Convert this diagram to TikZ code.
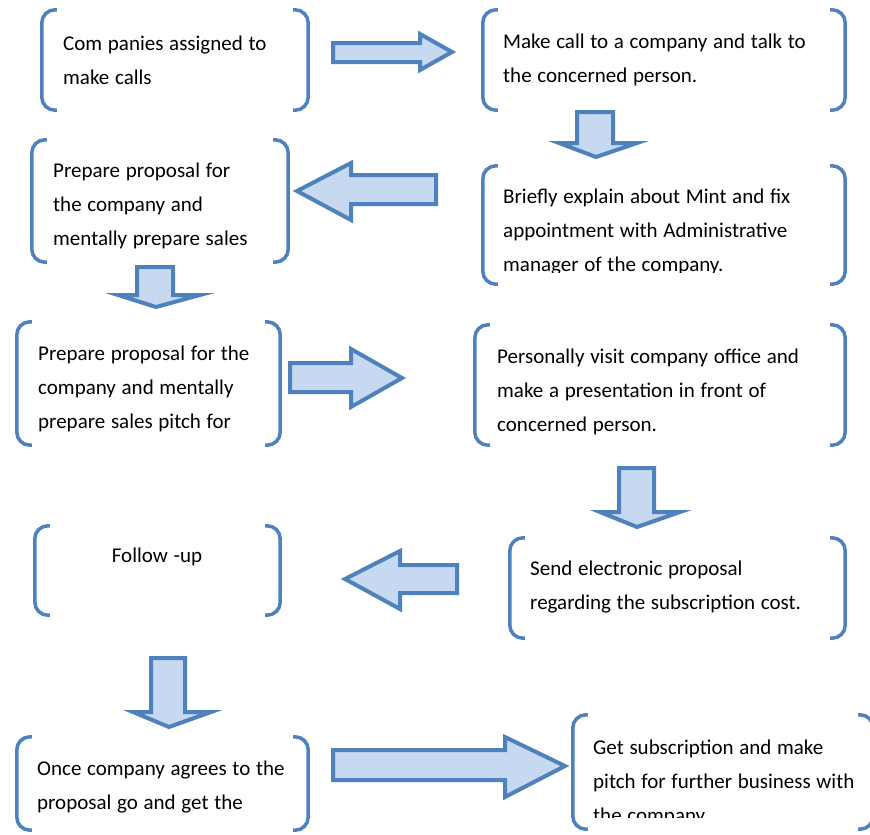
\documentclass[tikz,border=0pt]{standalone}
\usepackage{fontspec}
\setmainfont{Carlito}[WordSpace=1.2]
\usepackage{tikz}
\definecolor{mintblue}{HTML}{4F81BD}
\definecolor{mintfill}{HTML}{C6D9F1}

% left and right bracket round a frame node
\newcommand{\brackets}[1]{%
  \draw[bracket] ([xshift=15pt]#1.north west) -- (#1.north west) -- (#1.south west) -- ([xshift=15pt]#1.south west);
  \draw[bracket] ([xshift=-15pt]#1.north east) -- (#1.north east) -- (#1.south east) -- ([xshift=-15pt]#1.south east);
}

\begin{document}
\begin{tikzpicture}[x=1pt,y=-1pt,
    frame/.style={rectangle, inner sep=0pt},
    bracket/.style={draw=mintblue, line width=3.5pt, rounded corners=13pt},
    txt/.style={inner sep=0pt, align=left, anchor=west, font=\fontsize{21}{34}\selectfont},
    blockarrow/.style={draw=mintblue, fill=mintfill, line width=4pt}]
  \clip (0,0) rectangle (870,835);

  % Frames of the steps
  \node[frame, minimum width=266pt, minimum height=100pt] (b1) at (175,60) {};
  \node[frame, minimum width=362pt, minimum height=100pt] (b2) at (664,60) {};
  \node[frame, minimum width=362pt, minimum height=118pt] (b3) at (664,225) {};
  \node[frame, minimum width=256pt, minimum height=122pt] (b4) at (160,201) {};
  \node[frame, minimum width=263pt, minimum height=123pt] (b5) at (148.5,383.5) {};
  \node[frame, minimum width=370pt, minimum height=120pt] (b6) at (660,385) {};
  \node[frame, minimum width=245pt, minimum height=89pt] (b7) at (157.5,570.5) {};
  \node[frame, minimum width=335pt, minimum height=100pt] (b8) at (677.5,588) {};
  \node[frame, minimum width=291pt, minimum height=93pt] (b9) at (162.5,783.5) {};
  \node[frame, minimum width=300pt, minimum height=114pt] (b10) at (723,772) {};
  \foreach \b in {b1,b2,b3,b4,b5,b6,b7,b8,b9,b10} {\brackets{\b}}

  % Texts of the steps
  \node[txt] (t1) at (63,60) {Com panies assigned to\\make calls};
  \node[txt] (t2) at (503,60) {Make call to a company and talk to\\the concerned person.};
  \begin{scope}
    \clip (483,150) rectangle (845,272);
    \node[txt] (t3) at (503,232) {Briefly explain about Mint and fix\\appointment with Administrative\\manager of the company.};
  \end{scope}
  \node[txt] (t4) at (53,205.5) {Prepare proposal for\\the company and\\mentally prepare sales};
  \node[txt] (t5) at (38,388.5) {Prepare proposal for the\\company and mentally\\prepare sales pitch for};
  \node[txt] (t6) at (497,392) {Personally visit company office and\\make a presentation in front of\\concerned person.};
  \node[txt, anchor=center] (t7) at (157,557) {Follow -up};
  \node[txt] (t8) at (530,587) {Send electronic proposal\\regarding the subscription cost.};
  \node[txt] (t9) at (37,787) {Once company agrees to the\\proposal go and get the};
  \begin{scope}
    \clip (573,700) rectangle (873,817);
    \node[txt] (t10) at (593,783) {Get subscription and make\\pitch for further business with\\the company};
  \end{scope}

  % Block arrows between the steps
  \draw[blockarrow] (333,43) -- (420,43) -- (420,34) -- (452,52) -- (420,70) -- (420,62) -- (333,62) -- cycle;
  \draw[blockarrow] (577,112) -- (613,112) -- (613,143) -- (637,143) -- (596,157) -- (559,143) -- (577,143) -- cycle;
  \draw[blockarrow] (436,175) -- (351,175) -- (351,163) -- (297,191) -- (351,220) -- (351,204) -- (436,204) -- cycle;
  \draw[blockarrow] (137,267) -- (173,267) -- (173,295) -- (200,295) -- (156,307) -- (118,295) -- (137,295) -- cycle;
  \draw[blockarrow] (290,363) -- (351,363) -- (351,349) -- (402,378) -- (351,407) -- (351,392) -- (290,392) -- cycle;
  \draw[blockarrow] (619,468) -- (654,468) -- (654,512) -- (680,512) -- (637,527) -- (600,512) -- (619,512) -- cycle;
  \draw[blockarrow] (457,565) -- (400,565) -- (400,551) -- (345,579) -- (400,609) -- (400,593) -- (457,593) -- cycle;
  \draw[blockarrow] (151,658) -- (185,658) -- (185,712) -- (211,712) -- (169,727) -- (133,712) -- (151,712) -- cycle;
  \draw[blockarrow] (333,750) -- (505,750) -- (505,737) -- (565,766) -- (505,797) -- (505,780) -- (333,780) -- cycle;
\end{tikzpicture}
\end{document}
